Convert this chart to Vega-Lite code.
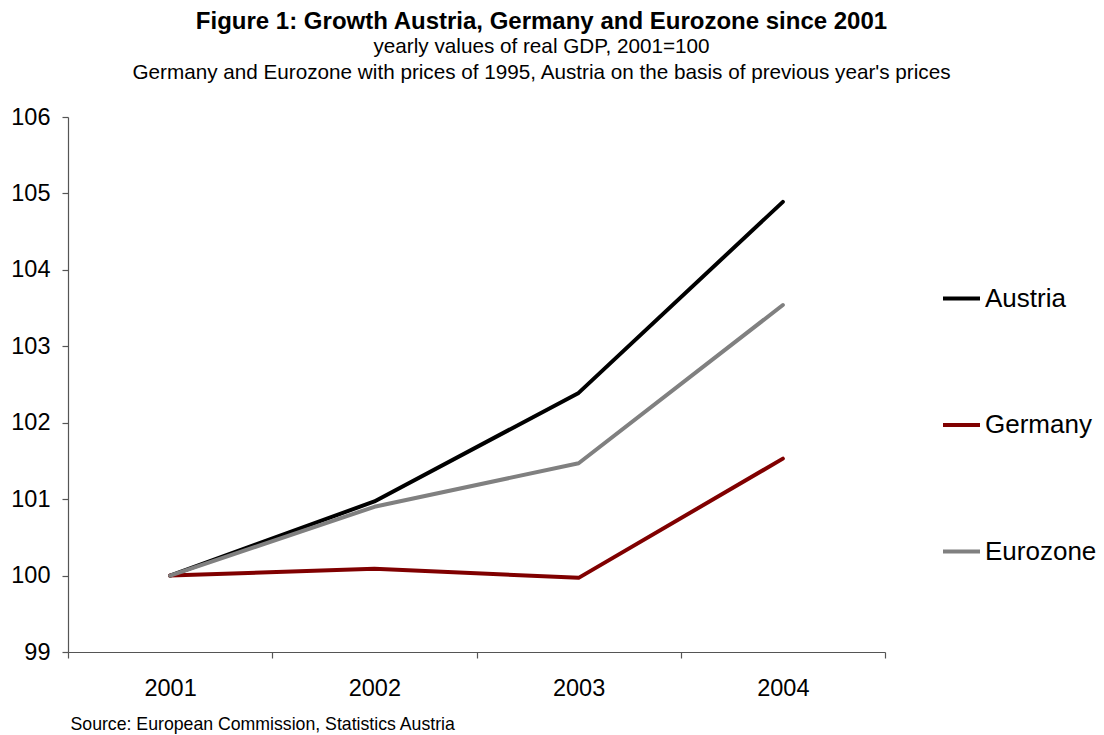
{
  "$schema": "https://vega.github.io/schema/vega-lite/v6.json",
  "autosize": "none",
  "width": 817,
  "height": 535,
  "padding": {"left": 68, "top": 117, "right": 219, "bottom": 83},
  "background": "white",
  "config": {"view": {"stroke": null}, "font": "Liberation Sans"},
  "title": {
    "text": "Figure 1: Growth Austria, Germany and Eurozone since 2001",
    "subtitle": ["yearly values of real GDP, 2001=100", "Germany and Eurozone with prices of 1995, Austria on the basis of previous year's prices"],
    "anchor": "middle",
    "frame": "group",
    "dx": 65,
    "offset": 22,
    "fontSize": 24,
    "fontWeight": "bold",
    "color": "black",
    "subtitleFontSize": 20.7,
    "subtitleColor": "black",
    "subtitlePadding": 3,
    "subtitleLineHeight": 26
  },
  "data": {
    "values": [
      {"year": "2001", "country": "Austria", "gdp": 100},
      {"year": "2002", "country": "Austria", "gdp": 100.97},
      {"year": "2003", "country": "Austria", "gdp": 102.39},
      {"year": "2004", "country": "Austria", "gdp": 104.89},
      {"year": "2001", "country": "Germany", "gdp": 100},
      {"year": "2002", "country": "Germany", "gdp": 100.09},
      {"year": "2003", "country": "Germany", "gdp": 99.97},
      {"year": "2004", "country": "Germany", "gdp": 101.53},
      {"year": "2001", "country": "Eurozone", "gdp": 100},
      {"year": "2002", "country": "Eurozone", "gdp": 100.9},
      {"year": "2003", "country": "Eurozone", "gdp": 101.47},
      {"year": "2004", "country": "Eurozone", "gdp": 103.54}
    ]
  },
  "mark": {"type": "line", "strokeWidth": 4, "strokeCap": "round", "strokeJoin": "round"},
  "encoding": {
    "x": {
      "field": "year",
      "type": "ordinal",
      "scale": {"type": "band", "paddingInner": 0, "paddingOuter": 0},
      "axis": {
        "title": "Source: European Commission, Statistics Austria",
        "titleFontSize": 17.7,
        "titleFontWeight": "normal",
        "titleColor": "black",
        "titleAnchor": "start",
        "titleAlign": "left",
        "titleBaseline": "middle",
        "titleX": 2,
        "titleY": 72,
        "labelAngle": 0,
        "labelFontSize": 23.5,
        "labelColor": "black",
        "labelPadding": 18,
        "tickBand": "extent",
        "tickSize": 6,
        "tickColor": "#555",
        "domainColor": "#555",
        "domainWidth": 1.2,
        "tickWidth": 1.2,
        "grid": false
      }
    },
    "y": {
      "field": "gdp",
      "type": "quantitative",
      "scale": {"domain": [99, 106], "zero": false, "nice": false},
      "axis": {
        "title": null,
        "values": [99, 100, 101, 102, 103, 104, 105, 106],
        "format": "d",
        "labelFontSize": 23.5,
        "labelColor": "black",
        "labelPadding": 12,
        "tickSize": 6,
        "tickColor": "#555",
        "domainColor": "#555",
        "domainWidth": 1.2,
        "tickWidth": 1.2,
        "grid": false
      }
    },
    "color": {
      "field": "country",
      "type": "nominal",
      "scale": {"domain": ["Austria", "Germany", "Eurozone"], "range": ["#000000", "#800000", "#808080"]},
      "legend": {
        "title": null,
        "orient": "none",
        "legendX": 873,
        "legendY": 161,
        "symbolType": "stroke",
        "symbolSize": 1369,
        "symbolStrokeWidth": 4,
        "labelFontSize": 26,
        "labelColor": "black",
        "labelOffset": 3,
        "rowPadding": 92.5
      }
    },
    "order": {"field": "year"}
  }
}
